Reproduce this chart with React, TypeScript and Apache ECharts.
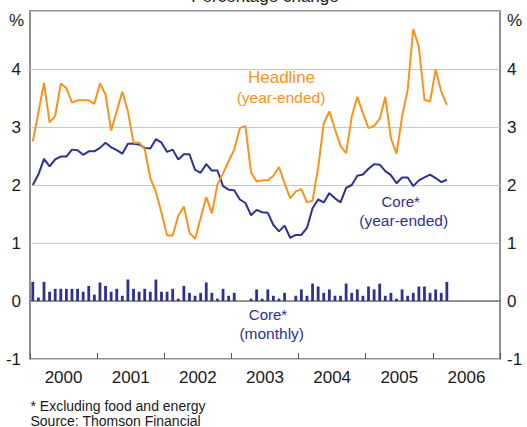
import React, { useEffect, useRef } from "react";
import * as echarts from "echarts";

const years = ["2000", "2001", "2002", "2003", "2004", "2005", "2006"];
const monthNames = ["Jan", "Feb", "Mar", "Apr", "May", "Jun", "Jul", "Aug", "Sep", "Oct", "Nov", "Dec"];
const months = years.flatMap((y) => monthNames.map((m) => `${m}-${y}`));

// Headline CPI, year-ended % change (Jan 2000 - Mar 2006)
const headline = [
  2.75, 3.25, 3.76, 3.08, 3.19, 3.75, 3.67, 3.42, 3.46, 3.46, 3.46, 3.4,
  3.75, 3.56, 2.94, 3.27, 3.61, 3.27, 2.73, 2.73, 2.62, 2.12, 1.88, 1.52,
  1.13, 1.13, 1.47, 1.63, 1.18, 1.07, 1.43, 1.79, 1.51, 2.01, 2.2, 2.41,
  2.61, 2.98, 3.02, 2.22, 2.06, 2.08, 2.08, 2.16, 2.31, 2.03, 1.77, 1.89,
  1.93, 1.7, 1.73, 2.3, 3.06, 3.27, 2.96, 2.67, 2.55, 3.18, 3.52, 3.24,
  2.98, 3.02, 3.14, 3.52, 2.81, 2.54, 3.18, 3.64, 4.69, 4.38, 3.47, 3.44,
  3.99, 3.61, 3.38,
];

// Core CPI, year-ended % change
const coreYearEnded = [
  2.0, 2.18, 2.45, 2.32, 2.44, 2.49, 2.49, 2.61, 2.6, 2.52, 2.58, 2.58,
  2.64, 2.73, 2.65, 2.6, 2.54, 2.71, 2.71, 2.7, 2.64, 2.63, 2.79, 2.73,
  2.57, 2.61, 2.44, 2.53, 2.53, 2.26, 2.21, 2.36, 2.25, 2.25, 1.98, 1.92,
  1.91, 1.75, 1.69, 1.48, 1.57, 1.53, 1.52, 1.31, 1.2, 1.3, 1.09, 1.14,
  1.14, 1.26, 1.6, 1.75, 1.7, 1.86, 1.77, 1.7, 1.95, 2.0, 2.16, 2.18,
  2.28, 2.36, 2.35, 2.24, 2.17, 2.03, 2.13, 2.13, 1.98, 2.08, 2.13, 2.18,
  2.12, 2.05, 2.09,
];

// Core CPI, monthly % change
const coreMonthly = [
  0.33, 0.06, 0.33, 0.16, 0.21, 0.21, 0.21, 0.21, 0.21, 0.16, 0.26, 0.11,
  0.32, 0.26, 0.16, 0.21, 0.09, 0.37, 0.21, 0.16, 0.21, 0.16, 0.37, 0.16,
  0.16, 0.21, 0.04, 0.26, 0.14, 0.09, 0.14, 0.32, 0.14, 0.04, 0.21, 0.09,
  0.14, 0, 0, 0.04, 0.2, 0.04, 0.2, 0.09, 0.04, 0.14, 0, 0.09,
  0.2, 0.09, 0.3, 0.25, 0.14, 0.2, 0.09, 0.09, 0.3, 0.14, 0.2, 0.09,
  0.25, 0.2, 0.3, 0.09, 0.14, 0.04, 0.2, 0.09, 0.14, 0.25, 0.25, 0.14,
  0.2, 0.14, 0.33,
];

const ORANGE = "#F7941D";
const BLUE = "#2E3192";
const TEXT = "#1a1a1a";
const FONT = 'Arial, "Liberation Sans", sans-serif';

export default function App() {
  const ref = useRef<HTMLDivElement>(null);

  useEffect(() => {
    if (!ref.current) return;
    const chart = echarts.init(ref.current, undefined, { renderer: "svg" });
    const yLabel = {
      color: TEXT,
      fontSize: 17,
      fontFamily: FONT,
      formatter: (v: number) => (v === 5 ? "" : String(v)),
    };
    const txt = (text: string, x: number, y: number, size: number, fill: string, align = "center") => ({
      type: "text",
      x,
      y,
      silent: true,
      style: {
        text,
        fill,
        fontSize: size,
        fontFamily: FONT,
        textAlign: align,
        textVerticalAlign: "middle",
      },
    });
    chart.setOption({
      animation: false,
      backgroundColor: "#ffffff",
      textStyle: { fontFamily: FONT },
      grid: {
        left: 30,
        right: 27,
        top: 11,
        bottom: 68,
        show: true,
        borderColor: "#6b6b6b",
        borderWidth: 1.5,
        backgroundColor: "transparent",
      },
      xAxis: [
        {
          type: "category",
          data: months,
          boundaryGap: true,
          axisLine: { show: true, onZero: true, lineStyle: { color: "#7a7a7a", width: 1.5 } },
          axisTick: { show: false },
          axisLabel: { show: false },
          splitLine: { show: false },
        },
        {
          type: "category",
          data: years,
          position: "bottom",
          boundaryGap: true,
          axisLine: { show: false, onZero: false },
          axisTick: { show: true, inside: true, length: 6, lineStyle: { color: "#555555", width: 1 } },
          axisLabel: { color: TEXT, fontSize: 17, fontFamily: FONT, margin: 10, interval: 0 },
          splitLine: { show: false },
        },
      ],
      yAxis: [
        {
          type: "value",
          min: -1,
          max: 5,
          interval: 1,
          position: "left",
          axisLine: { show: false },
          axisTick: { show: false },
          axisLabel: { ...yLabel, margin: 9 },
          splitLine: { show: true, lineStyle: { color: "#c8c8c8", width: 1 } },
        },
        {
          type: "value",
          min: -1,
          max: 5,
          interval: 1,
          position: "right",
          axisLine: { show: false },
          axisTick: { show: false },
          axisLabel: { ...yLabel, margin: 7 },
          splitLine: { show: false },
        },
      ],
      series: [
        {
          name: "Core (monthly)",
          type: "bar",
          xAxisIndex: 0,
          yAxisIndex: 0,
          data: coreMonthly,
          barWidth: "50%",
          itemStyle: { color: BLUE },
        },
        {
          name: "Core (year-ended)",
          type: "line",
          xAxisIndex: 0,
          yAxisIndex: 0,
          data: coreYearEnded,
          showSymbol: false,
          lineStyle: { color: BLUE, width: 2 },
        },
        {
          name: "Headline (year-ended)",
          type: "line",
          xAxisIndex: 0,
          yAxisIndex: 0,
          data: headline,
          showSymbol: false,
          lineStyle: { color: ORANGE, width: 2 },
        },
      ],
      graphic: [
        txt("Percentage change", 265, -3.5, 17, TEXT),
        txt("%", 24, 20, 17, TEXT, "right"),
        txt("%", 507, 20, 17, TEXT, "left"),
        txt("Headline", 281.5, 77.7, 17, ORANGE),
        txt("(year-ended)", 281, 97, 15.5, ORANGE),
        txt("Core*", 400.7, 201.7, 15, BLUE),
        txt("(year-ended)", 403.7, 220, 15.5, BLUE),
        txt("Core*", 268, 314.5, 15, BLUE),
        txt("(monthly)", 271.7, 333.3, 15.5, BLUE),
        txt("* Excluding food and energy", 30.5, 406, 14, TEXT, "left"),
        txt("Source: Thomson Financial", 30.5, 421, 14, TEXT, "left"),
      ],
    });
    return () => chart.dispose();
  }, []);

  return (
    <div
      ref={ref}
      style={{ position: "fixed", left: 0, top: 0, width: 527, height: 427 }}
    />
  );
}
